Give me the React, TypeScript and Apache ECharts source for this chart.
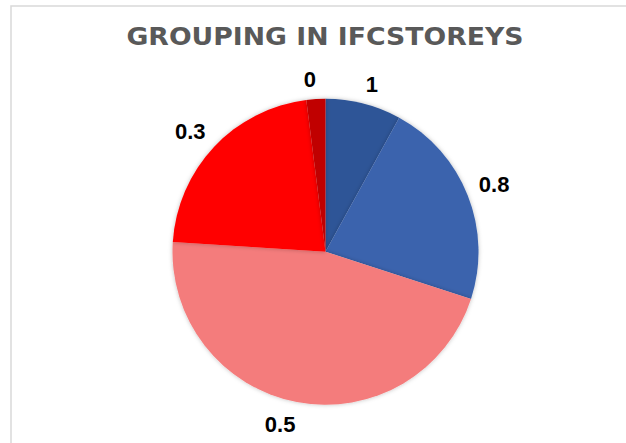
import React, { useEffect, useRef } from "react";
import * as echarts from "echarts";

const titleText = "GROUPING IN IFCSTOREYS";
const categories = ["1", "0.8", "0.5", "0.3", "0"];
const counts = [4, 11, 23, 11, 1];
const colors = ["#2F5597", "#3A63AD", "#F47C7C", "#FF0000", "#C00000"];

const CX = 325.5;
const CY = 251.7;
const R = 153;
const GAP = 13;
const LABEL_SIZE = 22;

export default function App() {
  const ref = useRef<HTMLDivElement>(null);
  useEffect(() => {
    document.body.style.margin = "0";
    const chart = echarts.init(ref.current!, null, { renderer: "svg" });
    const total = counts.reduce((a, b) => a + b, 0);
    const midAngles: number[] = [];
    let acc = 0;
    counts.forEach((v) => {
      midAngles.push(((acc + v / 2) / total) * Math.PI * 2);
      acc += v;
    });
    chart.setOption({
      animation: false,
      backgroundColor: "#ffffff",
      graphic: [
        {
          type: "rect",
          shape: { x: 11, y: 6, width: 700, height: 500 },
          style: { fill: "none", stroke: "#D9D9D9", lineWidth: 1.5 },
          silent: true,
        },
        {
          type: "text",
          x: 325,
          y: 24,
          scaleX: 1.09,
          style: {
            text: titleText,
            fontFamily: "DejaVu Sans",
            fontWeight: "bold",
            fontSize: 24.5,
            fill: "#595959",
            textAlign: "center",
            textVerticalAlign: "top",
          },
          silent: true,
        },
      ],
      series: [
        {
          type: "pie",
          center: [CX, CY],
          radius: R,
          startAngle: 90,
          clockwise: true,
          avoidLabelOverlap: false,
          data: categories.map((c, i) => ({
            name: c,
            value: counts[i],
            itemStyle: { color: colors[i] },
          })),
          itemStyle: {
            borderWidth: 0,
            shadowBlur: 4,
            shadowColor: "rgba(0,0,0,0.25)",
          },
          label: {
            show: true,
            position: "outside",
            formatter: "{b}",
            fontFamily: "Liberation Sans",
            fontWeight: "bold",
            fontSize: LABEL_SIZE,
            color: "#000000",
          },
          labelLine: { show: false, length: 14, length2: 0 },
          labelLayout: (params: any) => {
            const a = midAngles[params.dataIndex];
            const dx = Math.sin(a);
            const dy = -Math.cos(a);
            const w = params.labelRect.width - 2;
            const h = LABEL_SIZE * 0.72;
            const px = CX + dx * (R + GAP);
            const py = CY + dy * (R + GAP);
            return {
              x: px + Math.sign(dx) * (w / 2),
              y: py + Math.sign(dy) * (h / 2) + 1.5,
              align: "center",
              verticalAlign: "middle",
            };
          },
          emphasis: { disabled: true },
        },
      ],
    });
    return () => chart.dispose();
  }, []);
  return (
    <div
      ref={ref}
      style={{ position: "absolute", left: 0, top: 0, width: 626, height: 443 }}
    />
  );
}
